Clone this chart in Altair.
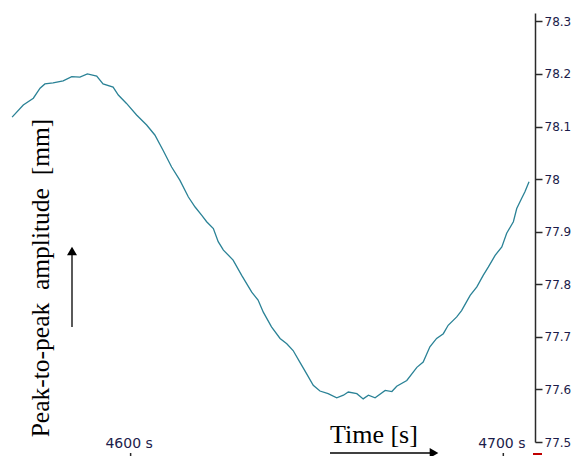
import altair as alt
import pandas as pd

# Time (s) and peak-to-peak amplitude (mm)
time_s = [4568.2, 4571.2, 4573.9, 4575.7, 4577.0, 4579.2, 4581.9, 4584.2, 4586.4, 4588.4,
          4590.9, 4592.6, 4595.3, 4596.7, 4598.9, 4601.6, 4604.3, 4606.5, 4608.7, 4611.0,
          4613.2, 4615.5, 4617.3, 4619.1, 4620.4, 4622.2, 4623.5, 4624.9, 4627.5, 4629.8,
          4632.5, 4634.2, 4635.6, 4637.8, 4640.1, 4641.9, 4643.6, 4645.4, 4647.2, 4649.0,
          4650.8, 4653.0, 4655.3, 4657.1, 4658.4, 4660.7, 4662.4, 4663.8, 4665.6, 4668.3,
          4670.1, 4671.4, 4674.1, 4676.8, 4678.5, 4680.3, 4682.1, 4683.9, 4685.2, 4687.5,
          4688.8, 4691.1, 4692.9, 4694.6, 4696.0, 4697.8, 4699.6, 4700.9, 4702.7, 4703.6,
          4704.9, 4705.8, 4706.9]
amplitude_mm = [78.118, 78.141, 78.154, 78.173, 78.181, 78.183, 78.187, 78.195, 78.194, 78.200,
                78.196, 78.181, 78.175, 78.160, 78.144, 78.122, 78.103, 78.084, 78.055, 78.023,
                77.998, 77.966, 77.947, 77.931, 77.919, 77.906, 77.881, 77.865, 77.846, 77.817,
                77.785, 77.770, 77.747, 77.719, 77.697, 77.687, 77.674, 77.652, 77.630, 77.608,
                77.597, 77.592, 77.584, 77.589, 77.595, 77.592, 77.582, 77.589, 77.584, 77.598,
                77.596, 77.606, 77.617, 77.642, 77.652, 77.681, 77.697, 77.706, 77.722, 77.738,
                77.750, 77.779, 77.795, 77.817, 77.833, 77.855, 77.871, 77.897, 77.919, 77.944,
                77.963, 77.976, 77.995]

x_ticks = [4600, 4700]
x_tick_labels = ["4600 s", "4700 s"]
y_ticks = [77.5, 77.6, 77.7, 77.8, 77.9, 78.0, 78.1, 78.2, 78.3]

df = pd.DataFrame({"t": time_s, "v": amplitude_mm})
ticks_df = pd.DataFrame({"t": x_ticks, "label": x_tick_labels})

LINE = "#2a8296"
AX = "#2a2a2a"
LBL = "#1c1c4a"

xscale = alt.Scale(domain=[4567.1, 4708.5], nice=False, zero=False)
yscale = alt.Scale(domain=[77.5, 78.316], nice=False, zero=False)

line = alt.Chart(df).mark_line(color=LINE, strokeWidth=1.3).encode(
    x=alt.X("t:Q", scale=xscale, axis=None),
    y=alt.Y("v:Q", scale=yscale, axis=alt.Axis(
        orient="right", values=y_ticks, title=None, grid=False,
        labelExpr="'' + round(datum.value * 10) / 10",
        domainColor=AX, domainWidth=1.5, tickColor=AX, tickWidth=1.5, tickSize=7,
        labelPadding=2, labelFont="DejaVu Sans", labelFontSize=12, labelColor=LBL,
        labelFlush=False, labelOverlap=False)),
)

xtick_rules = alt.Chart(ticks_df).mark_rule(color=AX, strokeWidth=1.5).encode(
    x=alt.X("t:Q", scale=xscale, axis=None),
    y=alt.value(440), y2=alt.value(448),
)
xtick_text = alt.Chart(ticks_df).mark_text(
    font="DejaVu Sans", fontSize=14, color=LBL, baseline="alphabetic", align="center", dx=-1.5
).encode(
    x=alt.X("t:Q", scale=xscale, axis=None),
    y=alt.value(435),
    text="label:N",
)

time_title = alt.Chart(pd.DataFrame({"label": ["Time [s]"]})).mark_text(
    font="Liberation Serif", fontSize=26, color="black", align="left", baseline="alphabetic"
).encode(x=alt.value(322), y=alt.value(430), text="label:N")

y_title = alt.Chart(pd.DataFrame({"label": ["Peak-to-peak\u00a0 amplitude\u00a0 [mm]"]})).mark_text(
    font="Liberation Serif", fontSize=25.5, color="black", align="center", baseline="middle", angle=270
).encode(x=alt.value(33), y=alt.value(265), text="label:N")

time_arrow = alt.Chart(pd.DataFrame({"a": [0]})).mark_rule(color="black", strokeWidth=1.3).encode(
    x=alt.value(322), x2=alt.value(424), y=alt.value(440)
)
time_head = alt.Chart(pd.DataFrame({"a": [0]})).mark_point(
    shape="triangle-right", filled=True, color="black", size=100, opacity=1
).encode(x=alt.value(426), y=alt.value(440))

up_arrow = alt.Chart(pd.DataFrame({"a": [0]})).mark_rule(color="black", strokeWidth=1.3).encode(
    x=alt.value(64), y=alt.value(242), y2=alt.value(314)
)
up_head = alt.Chart(pd.DataFrame({"a": [0]})).mark_point(
    shape="triangle-up", filled=True, color="black", size=100, opacity=1
).encode(x=alt.value(64), y=alt.value(238))

red_mark = alt.Chart(pd.DataFrame({"a": [0]})).mark_rule(color="#c00000", strokeWidth=2).encode(
    x=alt.value(525), x2=alt.value(534), y=alt.value(441)
)

chart = alt.layer(
    line, xtick_rules, xtick_text, time_title, y_title, time_arrow, time_head, up_arrow, up_head, red_mark
).properties(
    width=527, height=429,
    autosize=alt.AutoSizeParams(type="none"),
    padding={"left": 0, "top": 5, "right": 36, "bottom": 14},
).configure_view(stroke=None)

chart.save("out.html", embed_options={"renderer": "svg", "actions": False})
